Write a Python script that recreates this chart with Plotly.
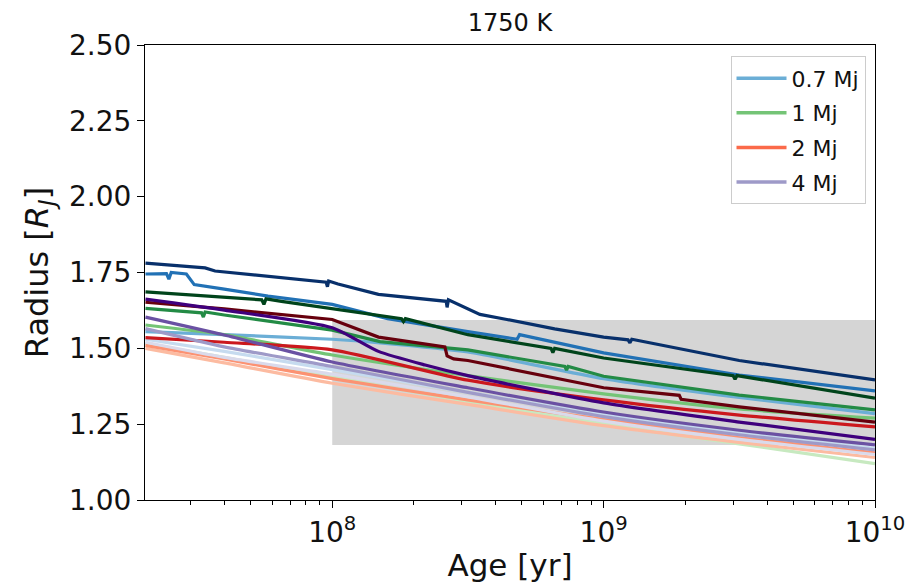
import plotly.graph_objects as go

# ---------------- data ----------------
AGE_GRID = [2.05e7, 4.0e7, 1.0e8, 3.16e8, 1.0e9, 3.16e9, 1.0e10]

# 0.7 Mj family (Blues)
age_b4 = [2.05e7, 3.4e7, 3.7e7, 9.5e7, 9.6e7, 9.7e7, 1.05e8, 1.48e8, 2.63e8, 2.65e8, 2.68e8,
          3.5e8, 4.4e8, 6.6e8, 1.0e9, 1.23e9, 1.25e9, 1.27e9, 3.16e9, 1.0e10]
rad_b4 = [1.781, 1.765, 1.755, 1.718, 1.703, 1.722, 1.712, 1.678, 1.655, 1.635, 1.660,
          1.612, 1.595, 1.564, 1.537, 1.528, 1.518, 1.530, 1.460, 1.396]
age_b3 = [2.05e7, 2.45e7, 2.5e7, 2.55e7, 2.9e7, 3.1e7, 4.0e7, 5.8e7, 1.0e8, 1.6e8, 3.16e8,
          4.8e8, 4.9e8, 5.5e8, 1.0e9, 3.16e9, 1.0e10]
rad_b3 = [1.745, 1.746, 1.728, 1.750, 1.745, 1.710, 1.695, 1.672, 1.645, 1.598, 1.555,
          1.530, 1.545, 1.535, 1.485, 1.412, 1.360]
age_b2 = [2.05e7, 4.0e7, 1.0e8, 1.5e8, 3.16e8, 1.0e9, 3.16e9, 1.0e10]
rad_b2 = [1.555, 1.545, 1.530, 1.518, 1.488, 1.400, 1.338, 1.285]
rad_b1 = [1.530, 1.490, 1.430, 1.355, 1.280, 1.220, 1.170]

# 1 Mj family (Greens)
age_g4 = [2.05e7, 4.0e7, 5.5e7, 5.6e7, 5.7e7, 6.5e7, 1.0e8, 1.8e8, 1.83e8, 1.86e8, 3.16e8,
          6.4e8, 6.5e8, 6.6e8, 1.0e9, 3.0e9, 3.05e9, 3.1e9, 1.0e10]
rad_g4 = [1.686, 1.670, 1.660, 1.645, 1.663, 1.655, 1.630, 1.598, 1.588, 1.598, 1.545,
          1.500, 1.486, 1.500, 1.468, 1.410, 1.398, 1.410, 1.336]
age_g3 = [2.05e7, 3.3e7, 3.35e7, 3.4e7, 4.0e7, 1.0e8, 1.5e8, 3.16e8, 7.2e8, 7.3e8, 7.4e8,
          1.0e9, 3.16e9, 1.0e10]
rad_g3 = [1.632, 1.617, 1.603, 1.620, 1.610, 1.560, 1.522, 1.495, 1.440, 1.428, 1.440,
          1.408, 1.346, 1.297]
rad_g2 = [1.577, 1.545, 1.478, 1.410, 1.350, 1.300, 1.270]
rad_g1 = [1.515, 1.470, 1.405, 1.325, 1.250, 1.185, 1.120]

# 2 Mj family (Reds)
age_r4 = [2.05e7, 4.0e7, 1.0e8, 1.48e8, 2.6e8, 2.65e8, 2.8e8, 3.16e8, 1.0e9, 1.9e9, 1.93e9,
          3.16e9, 1.0e10]
rad_r4 = [1.652, 1.630, 1.595, 1.537, 1.505, 1.475, 1.465, 1.460, 1.370, 1.345, 1.332,
          1.307, 1.257]
rad_r3 = [1.535, 1.520, 1.495, 1.395, 1.330, 1.280, 1.241]
rad_r2 = [1.510, 1.465, 1.400, 1.330, 1.265, 1.205, 1.155]
rad_r1 = [1.500, 1.452, 1.385, 1.315, 1.245, 1.190, 1.140]

# 4 Mj family (Purples)
age_p4 = [2.05e7, 4.0e7, 1.0e8, 1.48e8, 2.2e8, 3.16e8, 1.0e9, 3.16e9, 1.0e10]
rad_p4 = [1.662, 1.626, 1.568, 1.490, 1.445, 1.410, 1.320, 1.257, 1.200]
rad_p3 = [1.603, 1.544, 1.455, 1.370, 1.290, 1.230, 1.182]
rad_p2 = [1.565, 1.505, 1.440, 1.355, 1.275, 1.215, 1.165]
rad_p1 = [1.520, 1.470, 1.415, 1.340, 1.260, 1.200, 1.150]

LEGEND_LABELS = ["0.7 Mj", "1 Mj", "2 Mj", "4 Mj"]
LEGEND_COLORS = ["#6baed6", "#74c476", "#fb6a4a", "#9e9ac8"]

REGION_AGE = [1.0e8, 1.0e10]
REGION_RADIUS = [1.181, 1.593]

Y_TICKS = [1.00, 1.25, 1.50, 1.75, 2.00, 2.25, 2.50]
X_TICKS = [1e8, 1e9, 1e10]
X_TICKTEXT = ["10<sup>8</sup>", "10<sup>9</sup>", "10<sup>10</sup>"]

# ---------------- figure ----------------
lines = [
    (AGE_GRID, rad_b1, "#c6dbef"), (age_b2, rad_b2, "#6baed6"),
    (age_b3, rad_b3, "#2171b5"), (age_b4, rad_b4, "#08306b"),
    (AGE_GRID, rad_g1, "#c7e9c0"), (AGE_GRID, rad_g2, "#74c476"),
    (age_g3, rad_g3, "#238b45"), (age_g4, rad_g4, "#00441b"),
    (AGE_GRID, rad_r1, "#fcbba1"), (AGE_GRID, rad_r2, "#fc9272"),
    (AGE_GRID, rad_r3, "#cb181d"), (age_r4, rad_r4, "#67000d"),
    (AGE_GRID, rad_p1, "#dadaeb"), (AGE_GRID, rad_p2, "#9e9ac8"),
    (AGE_GRID, rad_p3, "#6a51a3"), (age_p4, rad_p4, "#3f007d"),
]

fig = go.Figure()
for ages, rads, col in lines:
    smooth = ages is AGE_GRID or ages is age_b2 or ages is age_p4
    fig.add_trace(go.Scatter(x=ages, y=rads, mode="lines",
                             line=dict(color=col, width=3.2,
                                       shape="spline" if smooth else "linear",
                                       smoothing=0.6 if smooth else None),
                             showlegend=False, hoverinfo="skip"))
for i, (lab, col) in enumerate(zip(LEGEND_LABELS, LEGEND_COLORS)):
    fig.add_trace(go.Scatter(x=[None], y=[None], mode="lines", name=lab,
                             legendgroup=f"g{i}",
                             line=dict(color=col, width=3.5), showlegend=True))

fig.add_shape(type="rect", xref="x", yref="y",
              x0=REGION_AGE[0], x1=REGION_AGE[1],
              y0=REGION_RADIUS[0], y1=REGION_RADIUS[1],
              fillcolor="#d5d5d5", line=dict(width=0), layer="below")

FONT = "DejaVu Sans"
fig.update_layout(
    width=917, height=588,
    margin=dict(l=145, r=39, t=45, b=88),
    paper_bgcolor="white", plot_bgcolor="white",
    font=dict(family=FONT, color="#111111"),
    title=dict(text="1750 K", x=0.5, xref="paper", y=1 - 23 / 588,
               yref="container", yanchor="middle", xanchor="center",
               font=dict(size=24, family=FONT, color="#111111")),
    legend=dict(x=0.987, y=0.975, xanchor="right", yanchor="top",
                bgcolor="rgba(255,255,255,0.85)", bordercolor="#cccccc",
                borderwidth=1, font=dict(size=22, family=FONT),
                itemwidth=50, tracegroupgap=3),
)
fig.update_xaxes(type="log", range=[7.31, 10.0],
                 tickvals=X_TICKS, ticktext=X_TICKTEXT,
                 ticks="outside", ticklen=7, tickwidth=1, tickcolor="black",
                 minor=dict(ticks="outside", ticklen=4, tickwidth=1, tickcolor="black",
                            dtick="D1", showgrid=False),
                 showline=True, linecolor="black", linewidth=1.2, mirror=True,
                 showgrid=False, zeroline=False,
                 tickfont=dict(size=28, family=FONT),
                 title=dict(text="Age [yr]", font=dict(size=31, family=FONT), standoff=6))
fig.update_yaxes(range=[1.0, 2.5], tickvals=Y_TICKS, tickformat=".2f",
                 ticks="outside", ticklen=7, tickwidth=1, tickcolor="black",
                 showline=True, linecolor="black", linewidth=1.2, mirror=True,
                 showgrid=False, zeroline=False,
                 tickfont=dict(size=28, family=FONT),
                 title=dict(text="Radius [<i>R<sub>J</sub></i>]",
                            font=dict(size=32, family=FONT), standoff=10))

fig.write_html("out.html")
